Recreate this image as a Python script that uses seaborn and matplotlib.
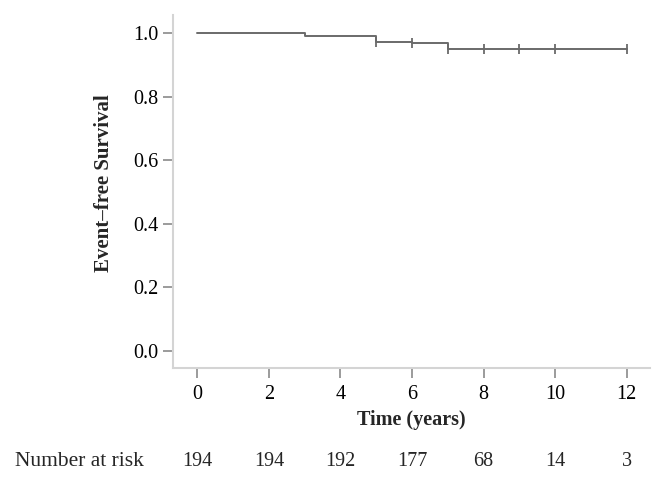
import numpy as np
import pandas as pd
import seaborn as sns
import matplotlib.pyplot as plt

# step curve
step_times = [0, 3, 5, 6, 7, 12]
step_surv = [1.0, 0.9905, 0.9735, 0.969, 0.950, 0.950]

# censoring marks
censor_times = [5, 6, 7, 8, 9, 10, 12]
censor_surv = [0.9735, 0.969, 0.950, 0.950, 0.950, 0.950, 0.950]

risk_times = [0, 2, 4, 6, 8, 10, 12]
risk_counts = [194, 194, 192, 177, 68, 14, 3]

sns.set_style("white")
plt.rcParams['font.family'] = ['Liberation Serif', 'DejaVu Serif']

curve_pd = pd.DataFrame({'Time': step_times, 'Survival': step_surv})
censor_pd = pd.DataFrame({'Time': censor_times, 'Survival': censor_surv})

fig = plt.figure(figsize=(6.66, 4.8), dpi=100)
ax = fig.add_axes([0.2605, 0.2333, 0.7155, 0.7354])

line_color = '#6a6a6a'
sns.lineplot(curve_pd, x='Time', y='Survival', drawstyle='steps-post',
             color=line_color, linewidth=1.4, ax=ax, estimator=None)
sns.scatterplot(censor_pd, x='Time', y='Survival', marker='|', s=60,
                color=line_color, linewidth=1.3, ax=ax, zorder=3)

ax.set_xlim(-0.665, 12.65)
ax.set_ylim(-0.054, 1.058)
ax.set_xticks(risk_times)
ax.set_yticks([0.0, 0.2, 0.4, 0.6, 0.8, 1.0])
ax.set_yticklabels(['0.0', '0.2', '0.4', '0.6', '0.8', '1.0'])

for side in ['top', 'right']:
    ax.spines[side].set_visible(False)
for side in ['left', 'bottom']:
    ax.spines[side].set_color('#d4d4d4')
    ax.spines[side].set_linewidth(1.5)

font_size = 14.5
ax.tick_params(axis='both', which='major', direction='out', length=7.5, width=1.2,
               color='#8a8a8a', labelsize=font_size, labelcolor='black',
               left=True, bottom=True)
ax.tick_params(axis='y', pad=3.5)
ax.tick_params(axis='x', pad=5)

ax.set_xlabel('Time (years)', fontsize=font_size, fontweight='bold')
ax.set_ylabel('Event\u2013free Survival', fontsize=15, fontweight='bold')
ax.xaxis.set_label_coords(0.5, -0.119)
ax.yaxis.set_label_coords(-0.125, 0.523)

# number at risk row
row_y = 1 - 461 / 480
fig.text(15 / 666, row_y, 'Number at risk', fontsize=15.5,
         ha='left', va='center')
for t, n in zip(risk_times, risk_counts):
    xf = ax.transData.transform((t, 0))[0]
    xf = fig.transFigure.inverted().transform((xf, 0))[0]
    fig.text(xf, row_y, str(n), fontsize=font_size, ha='center', va='center')

plt.savefig('out.png', dpi=100)
